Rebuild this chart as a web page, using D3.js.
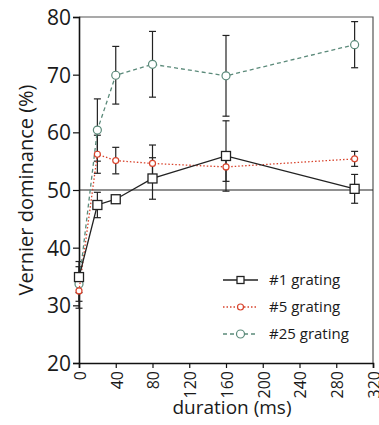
<!DOCTYPE html>
<html>
<head>
<meta charset="utf-8">
<script src="https://cdn.jsdelivr.net/npm/d3@7"></script>
<style>
  body { margin: 0; background: #fff; }
  text { font-family: "Open Sans", "DejaVu Sans", sans-serif; fill: #1a1a1a; }
</style>
</head>
<body>
<svg width="379" height="425"></svg>
<script>
// durations (ms)
const durations = [0, 20, 40, 80, 160, 300]

// mean vernier dominance (%) and error (+/-) per grating
const grating1 = [34.9, 47.4, 48.4, 52.0, 55.9, 50.2]
const grating1Err = [2.7, 2.2, 0.4, 3.6, 6.1, 2.5]
const grating5 = [32.5, 56.2, 55.1, 54.6, 54.0, 55.4]
const grating5Err = [3.0, 3.3, 2.3, 3.2, 2.5, 1.3]
const grating25 = [33.7, 60.4, 69.9, 71.8, 69.8, 75.2]
const grating25Err = [3.0, 5.4, 5.0, 5.7, 7.0, 4.0]

const xTicks = [0, 40, 80, 120, 160, 200, 240, 280, 320]
const yTicks = [20, 30, 40, 50, 60, 70, 80]

const series = [
    { name: "#1 grating", vals: grating1, err: grating1Err, color: "#222", dash: null, marker: "square" },
    { name: "#5 grating", vals: grating5, err: grating5Err, color: "#d8432c", dash: "1.5,2", marker: "circleSmall" },
    { name: "#25 grating", vals: grating25, err: grating25Err, color: "#5b8a7a", dash: "4,3", marker: "circle" }
]

const margin = { left: 79, top: 17, right: 6, bottom: 62 }
const width = 379, height = 425
const svg = d3.select("svg")

const x = d3.scaleLinear().domain([0, 320]).range([margin.left, width - margin.right])
const y = d3.scaleLinear().domain([20, 80]).range([height - margin.bottom, margin.top])

// frame (top & right)
svg.append("path")
    .attr("d", `M${x(0)},${y(80)}H${x(320)}V${y(20)}`)
    .attr("fill", "none").attr("stroke", "#555").attr("stroke-width", 1.2)

// reference line at 50%
svg.append("line")
    .attr("x1", x(0)).attr("x2", x(320))
    .attr("y1", y(50)).attr("y2", y(50))
    .attr("stroke", "#222").attr("stroke-width", 1.1)

// axes
const yAxis = svg.append("g")
    .attr("transform", `translate(${x(0)},0)`)
    .call(d3.axisLeft(y).tickValues(yTicks).tickSize(6).tickPadding(2))
yAxis.select(".domain").attr("stroke", "#111").attr("stroke-width", 1.6)
yAxis.selectAll(".tick line").attr("stroke", "#111").attr("stroke-width", 1.2)
yAxis.selectAll("text").style("font-size", "21px").attr("fill", "#1a1a1a").attr("dy", "0.36em")

const xAxis = svg.append("g")
    .attr("transform", `translate(0,${y(20)})`)
    .call(d3.axisBottom(x).tickValues(xTicks).tickSize(5))
xAxis.select(".domain").attr("stroke", "#111").attr("stroke-width", 1.6)
xAxis.selectAll(".tick line").attr("stroke", "#111").attr("stroke-width", 1.2)
// rotate the tick labels so they read bottom-to-top
xAxis.selectAll(".tick text")
    .style("font-size", "16px").attr("fill", "#1a1a1a")
    .attr("text-anchor", "end")
    .attr("x", -8).attr("y", 0.5).attr("dy", "0.36em")
    .attr("transform", "rotate(-90)")

// axis titles
svg.append("text")
    .attr("transform", `translate(33,${(y(20) + y(80)) / 2}) rotate(-90)`)
    .attr("text-anchor", "middle")
    .style("font-size", "20px")
    .text("Vernier dominance (%)")

svg.append("text")
    .attr("x", 232).attr("y", 414)
    .attr("text-anchor", "middle")
    .style("font-size", "19px")
    .text("duration (ms)")

function drawMarker(g, type, color, cx, cy) {
    if (type === "square") {
        g.append("rect").attr("x", cx - 4.5).attr("y", cy - 4.5)
            .attr("width", 9).attr("height", 9)
            .attr("fill", "#fff").attr("stroke", color).attr("stroke-width", 1.3)
    } else {
        g.append("circle").attr("cx", cx).attr("cy", cy)
            .attr("r", type === "circle" ? 4 : 3)
            .attr("fill", "#fff").attr("stroke", color).attr("stroke-width", 1.2)
    }
}

// error bars
series.forEach(s => {
    const g = svg.append("g")
    durations.forEach((d, i) => {
        const hi = y(s.vals[i] + s.err[i]), lo = y(s.vals[i] - s.err[i])
        g.append("line").attr("x1", x(d)).attr("x2", x(d)).attr("y1", hi).attr("y2", lo)
            .attr("stroke", "#222").attr("stroke-width", 1.2)
        ;[hi, lo].forEach(v => g.append("line")
            .attr("x1", x(d) - 3.5).attr("x2", x(d) + 3.5).attr("y1", v).attr("y2", v)
            .attr("stroke", "#222").attr("stroke-width", 1.2))
    })
})

// lines + markers (draw in reverse so #1 sits on top)
const line = d3.line().x((d, i) => x(durations[i])).y(d => y(d))
series.slice().reverse().forEach(s => {
    svg.append("path")
        .attr("d", line(s.vals))
        .attr("fill", "none").attr("stroke", s.color).attr("stroke-width", 1.3)
        .attr("stroke-dasharray", s.dash)
    const g = svg.append("g")
    durations.forEach((d, i) => drawMarker(g, s.marker, s.color, x(d), y(s.vals[i])))
})

// legend
const legendY = [280, 307, 334]
series.forEach((s, i) => {
    const g = svg.append("g")
    g.append("line").attr("x1", 223).attr("x2", 258)
        .attr("y1", legendY[i]).attr("y2", legendY[i])
        .attr("stroke", s.color).attr("stroke-width", 1.3).attr("stroke-dasharray", s.dash)
    drawMarker(g, s.marker, s.color, 240.5, legendY[i])
    if (s.marker === "square") g.select("rect").attr("width", 7).attr("height", 7)
        .attr("x", 237).attr("y", legendY[i] - 3.5)
    g.append("text").attr("x", 269).attr("y", legendY[i]).attr("dy", "0.36em")
        .style("font-size", "15px").text(s.name)
})
</script>
</body>
</html>
